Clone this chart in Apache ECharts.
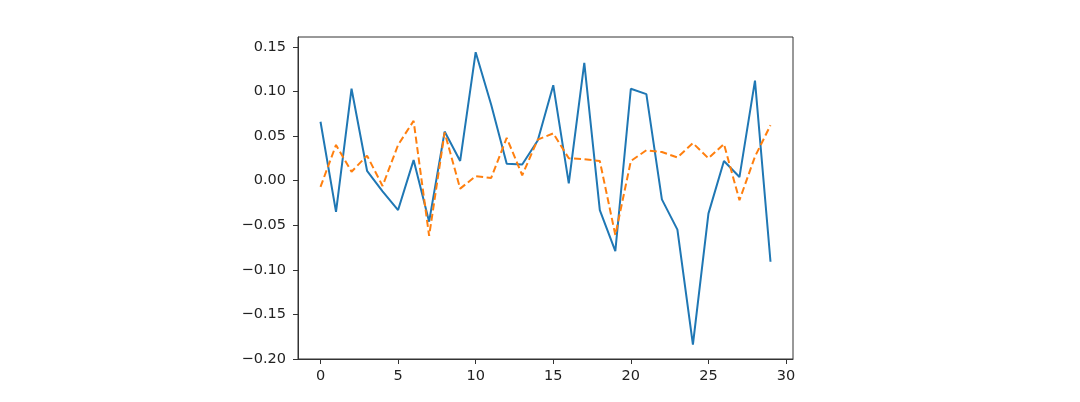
<!DOCTYPE html>
<html>
<head>
<meta charset="utf-8">
<script src="https://cdn.jsdelivr.net/npm/echarts@6/dist/echarts.min.js"></script>
<style>html,body{margin:0;padding:0;background:#fff}#c{width:1080px;height:402px}</style>
</head>
<body>
<div id="c"></div>
<script>
const xValues = [0,1,2,3,4,5,6,7,8,9,10,11,12,13,14,15,16,17,18,19,20,21,22,23,24,25,26,27,28,29];
const seriesSolid = [0.066,-0.035,0.103,0.011,-0.012,-0.033,0.023,-0.046,0.055,0.022,0.144,0.085,0.019,0.018,0.045,0.107,-0.003,0.132,-0.033,-0.079,0.103,0.097,-0.021,-0.055,-0.184,-0.037,0.022,0.004,0.112,-0.091];
const seriesDashed = [-0.007,0.040,0.010,0.028,-0.006,0.040,0.067,-0.062,0.054,-0.009,0.005,0.003,0.048,0.006,0.046,0.053,0.025,0.024,0.022,-0.061,0.022,0.034,0.032,0.026,0.042,0.025,0.041,-0.022,0.027,0.062];
const xTicks = [0,5,10,15,20,25,30];
const yTicks = [-0.20,-0.15,-0.10,-0.05,0.00,0.05,0.10,0.15];

const chart = echarts.init(document.getElementById('c'), null, {renderer:'canvas'});
const font = 'DejaVu Sans';
chart.setOption({
  animation:false,
  grid:{left:298,right:287,top:37,bottom:43,show:true,borderColor:'#333',borderWidth:1,backgroundColor:'transparent'},
  xAxis:{type:'value',min:-1.45,max:30.45,
    axisLine:{show:true,onZero:false,lineStyle:{color:'#333',width:1}},
    axisTick:{show:true,length:5,customValues:xTicks,lineStyle:{color:'#333'}},
    axisLabel:{customValues:xTicks,fontFamily:font,fontSize:14.5,color:'#222',margin:10,formatter:v=>String(Math.round(v))},
    splitLine:{show:false}},
  yAxis:{type:'value',min:-0.2,max:0.161,
    axisLine:{show:true,onZero:false,lineStyle:{color:'#333',width:1}},
    axisTick:{show:true,length:5,customValues:yTicks,lineStyle:{color:'#333'}},
    axisLabel:{customValues:yTicks,fontFamily:font,fontSize:14.5,color:'#222',margin:12,formatter:v=>v.toFixed(2).replace('-','\u2212')},
    splitLine:{show:false}},
  series:[
    {type:'line',data:xValues.map((x,i)=>[x,seriesSolid[i]]),showSymbol:false,lineStyle:{color:'#1f77b4',width:2},itemStyle:{color:'#1f77b4'}},
    {type:'line',data:xValues.map((x,i)=>[x,seriesDashed[i]]),showSymbol:false,lineStyle:{color:'#ff7f0e',width:2,type:[7,3.5]},itemStyle:{color:'#ff7f0e'}}
  ]
});
</script>
</body>
</html>
